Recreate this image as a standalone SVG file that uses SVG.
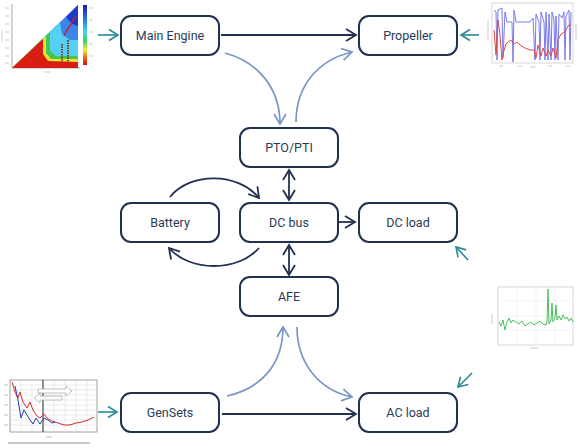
<svg xmlns="http://www.w3.org/2000/svg" width="580" height="448" viewBox="0 0 580 448">
<style>
.box{fill:#fff;stroke:#22314f;stroke-width:2}
.lbl{font-family:Roboto,"Noto Sans",sans-serif;font-size:12.5px;fill:#2a3a58;text-anchor:middle}
.dk{fill:none;stroke:#22314f;stroke-width:1.8}
.lt{fill:none;stroke:#7b96c4;stroke-width:1.7}
.tl{fill:none;stroke:#2a8a95;stroke-width:1.6}
.ax{fill:none;stroke:#bbb;stroke-width:0.6}
.tk{stroke:#aaa;stroke-width:1}
</style>
<defs>
<marker id="ad" markerUnits="userSpaceOnUse" markerWidth="14" markerHeight="14" refX="10" refY="6" orient="auto-start-reverse" overflow="visible"><path d="M0,0 L10,6 L0,12" fill="none" stroke="#22314f" stroke-width="1.8"/></marker>
<marker id="al" markerUnits="userSpaceOnUse" markerWidth="14" markerHeight="14" refX="10" refY="6" orient="auto" overflow="visible"><path d="M0,0 L10,6 L0,12" fill="none" stroke="#7b96c4" stroke-width="1.7"/></marker>
<marker id="at" markerUnits="userSpaceOnUse" markerWidth="14" markerHeight="14" refX="9" refY="5.5" orient="auto" overflow="visible"><path d="M0,0 L9,5.5 L0,11" fill="none" stroke="#2a8a95" stroke-width="1.6"/></marker>
<linearGradient id="cb" x1="0" y1="0" x2="0" y2="1">
<stop offset="0" stop-color="#1a1ab0"/><stop offset="0.25" stop-color="#2a7de8"/><stop offset="0.45" stop-color="#3fd6f0"/><stop offset="0.6" stop-color="#3fd060"/><stop offset="0.75" stop-color="#f0f030"/><stop offset="0.85" stop-color="#f08020"/><stop offset="1" stop-color="#d01010"/>
</linearGradient>
</defs>

<g id="plots">
<g id="plot-tl">
<line class="tk" x1="12" y1="4" x2="12" y2="68"/>
<line class="tk" x1="12" y1="68" x2="80" y2="68"/>
<g stroke="#ccc" stroke-width="1"><line x1="5" y1="8" x2="9" y2="8"/><line x1="5" y1="16" x2="9" y2="16"/><line x1="5" y1="24" x2="9" y2="24"/><line x1="5" y1="32" x2="9" y2="32"/><line x1="5" y1="40" x2="9" y2="40"/><line x1="5" y1="48" x2="9" y2="48"/><line x1="5" y1="56" x2="9" y2="56"/><line x1="5" y1="63" x2="9" y2="63"/><line x1="2" y1="30" x2="2" y2="42"/><line x1="44" y1="72" x2="50" y2="72"/></g>
<polygon points="12,68 78,5 78,68" fill="#3a86e8"/>
<polygon points="66,17 78,5 78,26 72,24" fill="#2038c8"/>
<polygon points="12,68 60,22 62,34 70,40 78,40 78,68" fill="#55cff2"/>
<polygon points="12,68 50,32 50,51 56,56 78,56 78,68" fill="#40c850"/>
<polygon points="12,68 46,36 46,53 51,59 78,59 78,68" fill="#f0e030"/>
<polygon points="12,68 43,39 43,54 48,61 78,62 78,68" fill="#d81e12"/>
<g stroke="#7a1a10" stroke-width="1.5" stroke-dasharray="1.5 1"><line x1="62" y1="44" x2="62" y2="62"/><line x1="68" y1="40" x2="68" y2="62"/></g>
<polyline points="64,36 67,30 70,26 73,20 76,17" fill="none" stroke="#c02050" stroke-width="1.5"/>
<rect x="83" y="5" width="4" height="60" fill="url(#cb)"/>
<g stroke="#ccc" stroke-width="1"><line x1="89" y1="8" x2="93" y2="8"/><line x1="89" y1="20" x2="93" y2="20"/><line x1="89" y1="32" x2="93" y2="32"/><line x1="89" y1="44" x2="93" y2="44"/><line x1="89" y1="56" x2="93" y2="56"/></g>
</g>
<g id="plot-tr">
<rect x="492" y="3" width="81" height="60" class="ax"/>
<polyline fill="none" stroke="#7a7aec" stroke-width="1" points="494,10 496,12 497,60 498,10 502,8 503,58 505,12 507,22 512,22 513,62 514,10 516,22 530,22 533,18 535,60 536,14 539,22 540,60 541,12 544,22 545,60 546,12 548,60 549,14 551,60 552,12 554,20 555,60 556,16 558,60 559,14 562,18 564,12 565,60 566,16 569,10 570,60 571,12"/>
<polyline fill="none" stroke="#e04848" stroke-width="1" points="494,30 496,55 498,20 500,35 502,60 504,50 506,44 508,42 511,40 514,44 517,42 520,45 525,48 530,50 534,50 536,58 538,45 541,56 543,48 546,56 548,50 551,56 553,48 556,58 558,40 561,34 565,32 568,26 571,24"/>
<g stroke="#ccc" stroke-width="1"><line x1="499" y1="66" x2="503" y2="66"/><line x1="518" y1="66" x2="522" y2="66"/><line x1="530" y1="67" x2="536" y2="67"/><line x1="548" y1="66" x2="552" y2="66"/><line x1="566" y1="66" x2="570" y2="66"/><line x1="488" y1="20" x2="488" y2="40"/><line x1="576" y1="24" x2="576" y2="40"/></g>
</g>
<g id="plot-br">
<rect x="498" y="287" width="75" height="58" class="ax"/>
<g stroke="#eee" stroke-width="0.6"><line x1="498" y1="301" x2="573" y2="301"/><line x1="498" y1="316" x2="573" y2="316"/><line x1="498" y1="330" x2="573" y2="330"/><line x1="517" y1="287" x2="517" y2="345"/><line x1="536" y1="287" x2="536" y2="345"/><line x1="555" y1="287" x2="555" y2="345"/></g>
<polyline fill="none" stroke="#4cc060" stroke-width="1" points="499,322 501,326 503,320 505,330 507,322 509,318 511,323 513,320 516,322 519,324 522,321 525,326 528,324 531,322 534,325 537,323 540,321 543,324 546,325 547,322 548,289 549,324 551,320 552,303 553,322 555,318 556,305 557,320 559,316 561,320 563,315 565,319 567,317 569,321 571,318 573,322"/>
<g stroke="#ccc" stroke-width="1"><line x1="492" y1="314" x2="492" y2="324"/><line x1="530" y1="348" x2="538" y2="348"/></g>
</g>
<g id="plot-bl">
<rect x="10" y="380" width="87" height="52" fill="#fff" stroke="#888" stroke-width="0.8"/>
<g stroke="#ddd" stroke-width="0.6"><line x1="10" y1="385" x2="97" y2="385"/><line x1="10" y1="390" x2="97" y2="390"/><line x1="10" y1="395" x2="97" y2="395"/><line x1="10" y1="400" x2="97" y2="400"/><line x1="10" y1="405" x2="97" y2="405"/><line x1="10" y1="410" x2="97" y2="410"/><line x1="10" y1="415" x2="97" y2="415"/><line x1="10" y1="420" x2="97" y2="420"/><line x1="10" y1="425" x2="97" y2="425"/><line x1="21" y1="380" x2="21" y2="432"/><line x1="32" y1="380" x2="32" y2="432"/><line x1="54" y1="380" x2="54" y2="432"/><line x1="65" y1="380" x2="65" y2="432"/><line x1="76" y1="380" x2="76" y2="432"/><line x1="87" y1="380" x2="87" y2="432"/></g>
<line x1="43" y1="380" x2="43" y2="432" stroke="#555" stroke-width="1.3"/>
<polyline fill="none" stroke="#d03030" stroke-width="1" points="12,382 15,392 18,398 20,392 23,402 27,408 30,402 33,410 37,416 40,418 44,414 47,418 52,421 58,423 64,425 70,425 76,423 82,422 88,420 94,417"/>
<polyline fill="none" stroke="#2040b0" stroke-width="1" points="15,386 18,400 21,418 24,410 27,415 30,420 33,424 36,418 40,424 44,418 48,420 52,423 55,422"/>
<polygon points="38,389 66,389 66,386 72,391 66,396 66,393 38,393" fill="#fff" stroke="#999" stroke-width="0.6"/>
<polygon points="62,396 40,396 40,393 34,398 40,403 40,400 62,400" fill="#fff" stroke="#999" stroke-width="0.6"/>
<g stroke="#bbb" stroke-width="1"><line x1="4" y1="385" x2="8" y2="385"/><line x1="4" y1="395" x2="8" y2="395"/><line x1="4" y1="405" x2="8" y2="405"/><line x1="4" y1="415" x2="8" y2="415"/><line x1="4" y1="425" x2="8" y2="425"/><line x1="46" y1="437" x2="52" y2="437"/></g>
<line x1="8" y1="443" x2="90" y2="443" stroke="#c8c8c8" stroke-width="2"/>
</g>
</g>

<g id="connectors">
<line class="dk" x1="221" y1="35" x2="356" y2="35" marker-end="url(#ad)"/>
<line class="dk" x1="289" y1="170" x2="289" y2="200" marker-start="url(#ad)" marker-end="url(#ad)"/>
<line class="dk" x1="289" y1="245" x2="289" y2="275" marker-start="url(#ad)" marker-end="url(#ad)"/>
<line class="dk" x1="339" y1="222" x2="355" y2="222" marker-end="url(#ad)"/>
<path class="dk" d="M170,197 C190,172 238,172 259,198" marker-end="url(#ad)"/>
<path class="dk" d="M259,248 C238,272 190,272 169,248" marker-end="url(#ad)"/>
<line class="dk" x1="222" y1="414" x2="356" y2="414" marker-end="url(#ad)"/>
<path class="lt" d="M225,53 C258,62 280,88 280,124" marker-end="url(#al)"/>
<path class="lt" d="M296,122 C296,86 318,60 352,52" marker-end="url(#al)"/>
<path class="lt" d="M227,396 C262,388 283,364 283,327" marker-end="url(#al)"/>
<path class="lt" d="M297,327 C297,362 318,390 352,397" marker-end="url(#al)"/>
<line class="tl" x1="98" y1="35" x2="118" y2="35" marker-end="url(#at)"/>
<line class="tl" x1="479" y1="35" x2="461" y2="35" marker-end="url(#at)"/>
<line class="tl" x1="468" y1="260" x2="456" y2="247" marker-end="url(#at)"/>
<line class="tl" x1="472" y1="373" x2="458" y2="387" marker-end="url(#at)"/>
<line class="tl" x1="98" y1="412" x2="117" y2="412" marker-end="url(#at)"/>
</g>

<g id="main-engine"><rect class="box" x="121" y="16" width="98" height="39" rx="10"/><text class="lbl" x="170" y="40">Main Engine</text></g>
<g id="propeller"><rect class="box" x="359" y="16" width="98" height="39" rx="10"/><text class="lbl" x="408" y="40">Propeller</text></g>
<g id="pto-pti"><rect class="box" x="240" y="128" width="98" height="39" rx="10"/><text class="lbl" x="289" y="152">PTO/PTI</text></g>
<g id="battery"><rect class="box" x="121" y="203" width="98" height="39" rx="10"/><text class="lbl" x="170" y="227">Battery</text></g>
<g id="dc-bus"><rect class="box" x="240" y="203" width="98" height="39" rx="10"/><text class="lbl" x="289" y="227">DC bus</text></g>
<g id="dc-load"><rect class="box" x="359" y="203" width="98" height="39" rx="10"/><text class="lbl" x="408" y="227">DC load</text></g>
<g id="afe"><rect class="box" x="240" y="277" width="98" height="39" rx="10"/><text class="lbl" x="289" y="301">AFE</text></g>
<g id="gensets"><rect class="box" x="121" y="393" width="98" height="39" rx="10"/><text class="lbl" x="170" y="417">GenSets</text></g>
<g id="ac-load"><rect class="box" x="359" y="393" width="98" height="39" rx="10"/><text class="lbl" x="408" y="417">AC load</text></g>
</svg>
